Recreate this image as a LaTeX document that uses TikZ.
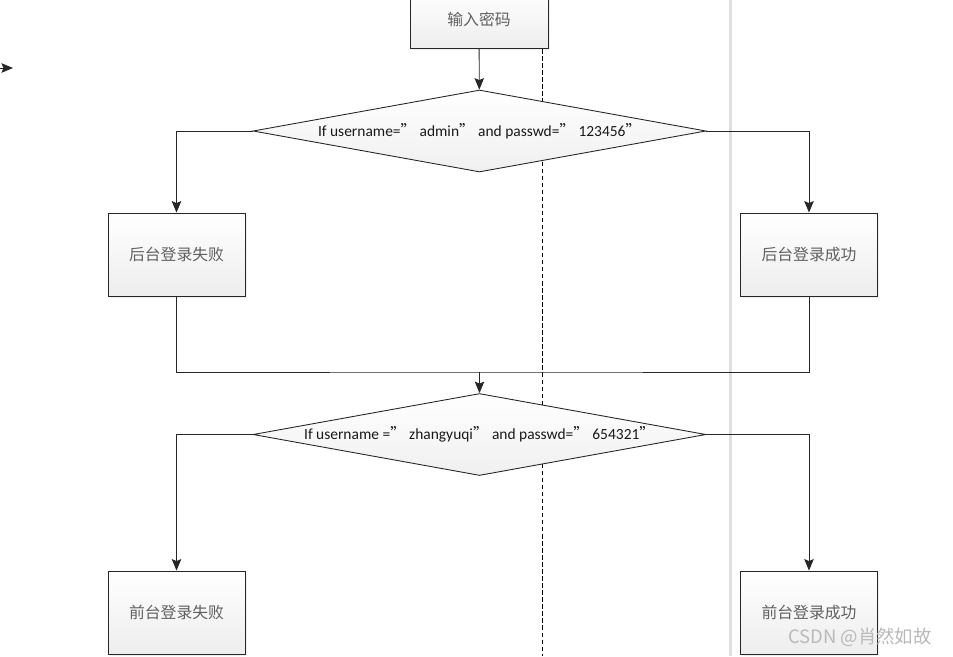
\documentclass[tikz,border=0pt]{standalone}
\usepackage{fontspec}
\setmainfont{Carlito}
\newfontfamily\cjk{Noto Sans CJK SC}
\usetikzlibrary{shapes.geometric,arrows.meta,shadows}

\begin{document}
\begin{tikzpicture}[x=0.02cm,y=-0.02cm]
%define
\tikzstyle{state} = [rectangle, minimum width=2.74cm, minimum height=1.66cm, text centered, draw=gray!30!black, line width=0.5pt, top color=white, bottom color=gray!14, drop shadow={opacity=0.12, shadow xshift=1pt, shadow yshift=-1pt}, font=\cjk\fontsize{9}{11}\selectfont, text=gray!75!black]
\tikzstyle{decision} = [diamond, aspect=5.52, minimum width=9.06cm, minimum height=1.64cm, inner sep=0pt, draw=gray!30!black, line width=0.5pt, top color=white, bottom color=gray!12, font=\fontsize{8.8}{10}\selectfont, text=gray!20!black]
\tikzstyle{arrow} = [-{Stealth[length=2.3mm, width=1.9mm, inset=0.4mm]}, draw=gray!30!black, line width=0.5pt]
\tikzstyle{link} = [draw=gray!30!black, line width=0.5pt]
\newcommand{\q}{{\cjk ”}}

\useasboundingbox (0,0) rectangle (953,656);

% lanes
\fill[gray!25] (729,0) rectangle (732,656);
\draw[black, dash pattern=on 2.5pt off 1.5pt, line width=0.5pt] (542,0) -- (542,656);

\node[state, minimum height=1.16cm, minimum width=2.76cm](input) at (479,19){输入密码};
\node[decision](cond1) at (479.5,131){If username=\q\ admin\q\ and passwd=\q\ 123456\q};
\node[state](fail1) at (176.5,254.5){后台登录失败};
\node[state](ok1) at (809,254.5){后台登录成功};
\coordinate (merge) at (479.5,372);
\node[decision](cond2) at (479.5,434.5){If username =\q\ zhangyuqi\q\ and passwd=\q\ 654321\q};
\node[state](fail2) at (176.5,612.5){前台登录失败};
\node[state](ok2) at (809,612.5){前台登录成功};

\draw[arrow](input) -- (cond1);
\draw[arrow](cond1.west) -| (fail1.north);
\draw[arrow](cond1.east) -| (ok1.north);
\draw[link](fail1.south) |- (merge) -| (ok1.south);
\draw[arrow](merge) -- (cond2);
\draw[arrow](cond2.west) -| (fail2.north);
\draw[arrow](cond2.east) -| (ok2.north);

% stray arrow at the left edge
\coordinate (tailL) at (0,68);
\coordinate (headL) at (13,68);
\draw[arrow](tailL) -- (headL);

% watermark
\node[font=\cjk\fontsize{10.5}{12}\selectfont, text=gray!55, anchor=east](mark) at (938,637){CSDN @肖然如故};
\end{tikzpicture}
\end{document}
